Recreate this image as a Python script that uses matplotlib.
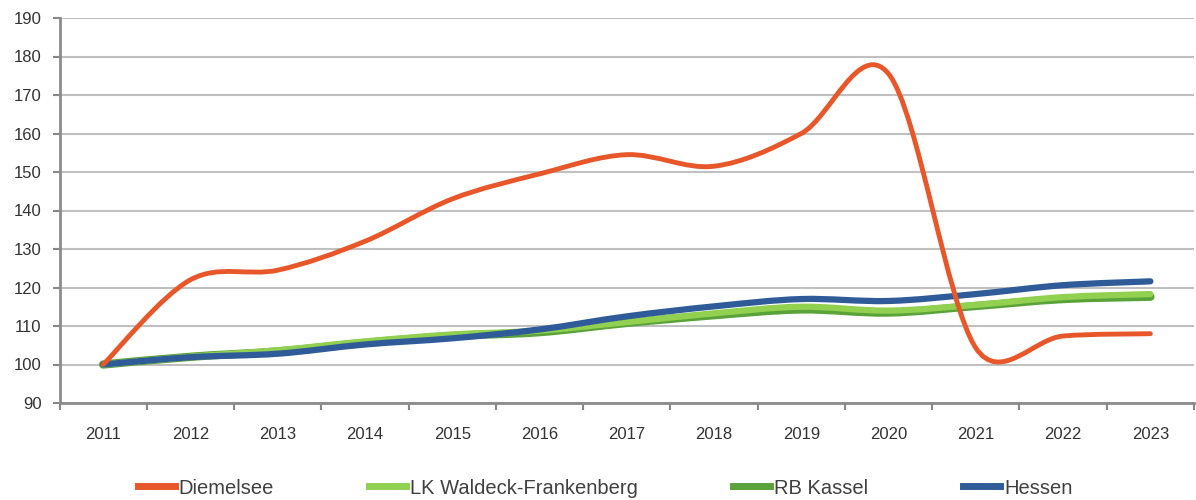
import numpy as np
import matplotlib
matplotlib.use("Agg")
import matplotlib.pyplot as plt
from matplotlib.path import Path
from matplotlib.patches import PathPatch
from matplotlib.lines import Line2D

plt.rcParams["font.family"] = ["Liberation Sans", "DejaVu Sans"]

years = ["2011", "2012", "2013", "2014", "2015", "2016", "2017",
         "2018", "2019", "2020", "2021", "2022", "2023"]
diemelsee = [100, 122, 124.5, 132, 143, 149.5, 154.5, 151.5, 160, 175.5, 104.3, 107.4, 108]
lk_waldeck = [100, 102, 103.7, 106, 107.8, 108.8, 111, 113.3, 115, 114, 115.5, 117.5, 118.3]
rb_kassel = [100, 102, 103.4, 105.6, 107.4, 108.4, 110.8, 112.8, 114.3, 113.5, 115.2, 117, 117.6]
hessen = [100, 101.9, 102.8, 105.2, 106.8, 109.1, 112.5, 115.1, 117, 116.5, 118.3, 120.6, 121.6]

series_names = ["Diemelsee", "LK Waldeck-Frankenberg", "RB Kassel", "Hessen"]
series_colors = ["#E8572A", "#92D050", "#5AA33A", "#2F5C99"]
series_widths = [3.5, 4.5, 6.0, 4.5]


def smooth_path(ax, xs, ys):
    # smoothed line like office charts: bezier through each point, control arms
    # at 1/6 of the neighbour chord, capped at half the segment (in screen space)
    to_px = ax.transData
    pts = to_px.transform(np.column_stack([xs, ys]).astype(float))
    n = len(pts)
    verts = [pts[0]]
    codes = [Path.MOVETO]
    for i in range(n - 1):
        p0 = pts[max(i - 1, 0)]
        p1 = pts[i]
        p2 = pts[i + 1]
        p3 = pts[min(i + 2, n - 1)]
        d02 = np.hypot(*(p2 - p0))
        d13 = np.hypot(*(p3 - p1))
        d12 = np.hypot(*(p2 - p1))
        b1 = 1.0 if d02 / 6 < d12 / 2 else (d12 / 2) / (d02 / 6)
        b2 = 1.0 if d13 / 6 < d12 / 2 else (d12 / 2) / (d13 / 6)
        c1 = p1 + (p2 - p0) / 6.0 * b1
        c2 = p2 - (p3 - p1) / 6.0 * b2
        verts += [c1, c2, p2]
        codes += [Path.CURVE4] * 3
    verts = to_px.inverted().transform(np.array(verts))
    return Path(verts, codes)


fig = plt.figure(figsize=(11.96, 5.0), dpi=100)
ax = fig.add_axes([59.5 / 1196, 1 - 403 / 500, (1194 - 59.5) / 1196, (403 - 18) / 500])

x = np.arange(len(years))
ax.set_xlim(-0.5, len(years) - 0.5)
ax.set_ylim(90, 190)

data = [diemelsee, lk_waldeck, rb_kassel, hessen]
zorders = [6, 3, 2, 4]
for vals, col, lw, z in zip(data, series_colors, series_widths, zorders):
    patch = PathPatch(smooth_path(ax, x, vals), facecolor="none", edgecolor=col,
                      linewidth=lw, capstyle="round", joinstyle="round", zorder=z)
    ax.add_patch(patch)

ax.set_yticks(np.arange(90, 191, 10))
ax.set_xticks(x)
ax.set_xticklabels(years)
ax.set_xticks(np.arange(-0.5, len(years), 1.0), minor=True)
ax.tick_params(axis="x", which="major", length=0, pad=17, labelsize=12, labelcolor="#333333")
ax.tick_params(axis="x", which="minor", length=5, width=1.5, color="#888888", direction="out")
ax.tick_params(axis="y", length=5, width=1.5, color="#888888", pad=8, labelsize=12,
               labelcolor="#333333")

ax.grid(True, axis="y", color="#c0c0c0", linewidth=1.5, zorder=0)
ax.set_axisbelow(True)
for side in ["top", "right"]:
    ax.spines[side].set_visible(False)
for side in ["left", "bottom"]:
    ax.spines[side].set_color("#8c8c8c")
    ax.spines[side].set_linewidth(2)
    ax.spines[side].set_zorder(7)

handles = [Line2D([0], [0], color=c, linewidth=5) for c in series_colors]
fig.legend(handles, series_names, loc="center", bbox_to_anchor=(605 / 1196, 1 - 488 / 500),
           ncol=4, frameon=False, fontsize=14.5, handlelength=1.85, handletextpad=0.2,
           columnspacing=4.7, labelcolor="#404040")

fig.savefig("out.png", dpi=100)
